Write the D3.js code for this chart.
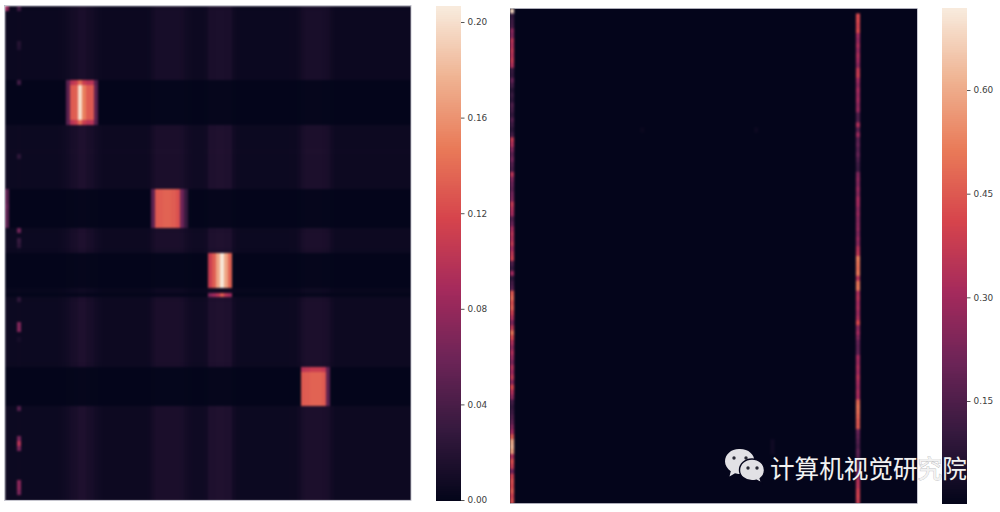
<!DOCTYPE html>
<html><head><meta charset="utf-8">
<style>
html,body{margin:0;padding:0;background:#fff;overflow:hidden}
svg{display:block}
.tick text{font-family:"DejaVu Sans",sans-serif;font-size:8.9px;fill:#404040}
.tick line{stroke:#555}
.domain{display:none}
</style>
<script src="https://cdn.jsdelivr.net/npm/d3@7/dist/d3.min.js"></script>
</head><body><svg id="c" width="1000" height="512"></svg>
<script>
// ---------- colormap (rocket, as it appears in the picture) ----------
const rocketStops = ["#03051a","#35193e","#6c2457","#a52a5c","#d6444c","#e97a58","#efb392","#f8ebdd"];

// ---------- left heatmap data (100 x 100) ----------
const leftColumnProfile = [
 .007,.0055,.0055,.006,.0055,.0055,.0055,.0055,.0055,.0055,.0055,.0055,.0055,.006,.007,
 .009,.012,.013,.016,.016,.013,.012,.009,.007,
 .006,.006,.006,.006,.006,.006,.006,.006,.006,.006,.006,.0065,
 .011,.014,.014,.014,.014,.014,.014,.013,.010,.008,.007,.007,.007,.008,
 .016,.016,.017,.017,.016,.016,.008,.006,.0055,.0055,.0055,.0055,.0055,.0055,.0055,.0055,.0055,.0055,.0055,.0055,.006,.006,.008,
 .013,.015,.015,.015,.015,.014,.013,.008,.006,.006,.006,.006,.006,.006,.006,.006,.006,.006,.006,.006,.006,.006,.006,.006,.006,.006,.006];
const leftRowLevel = [
 .80,.85,.85,.85,.85,.85,.85,.85,.85,.85,.85,.85,.85,.85,.85,
 .10,.10,.10,.10,.10,.10,.10,.10,.10,
 .95,1,1,1,1,1.05,1,1,1,1,1,1,1,
 .10,.10,.10,.10,.10,.10,.10,.10,
 .95,1,1,1,.9,
 .10,.10,.10,.10,.10,.10,.10,.45,.15,
 .95,1,1,1,1,1,1,1,1,1,1,1,1,.95,
 .10,.10,.10,.10,.10,.10,.10,.10,
 1,1,1,1,1,1,1,1,1,1,1,1,1,1,1,1,1,1,1];
// [firstRow, lastRow, firstCol, values across columns]
const leftHotBlocks = [
 [15,15,15,[.05,.10,.11,.14,.11,.10,.10,.045]],
 [16,22,15,[.05,.13,.134,.20,.15,.13,.13,.05]],
 [23,23,15,[.05,.10,.11,.14,.11,.10,.10,.045]],
 [37,44,36,[.05,.13,.132,.135,.135,.132,.125,.06,.03]],
 [50,56,50,[.11,.132,.17,.205,.17,.135]],
 [58,58,50,[.07,.085,.10,.13,.10,.085]],
 [73,73,73,[.10,.105,.11,.11,.11,.105,.05]],
 [74,80,73,[.13,.132,.135,.135,.135,.13,.05]]];
// [row, col, value]
const leftSpecks = [[0,0,.08],[0,3,.035],[7,3,.02],[8,3,.018],[15,3,.035],[30,3,.025],[45,3,.06],[47,3,.03],[48,3,.025],
 [37,0,.05],[38,0,.05],[39,0,.05],[40,0,.055],[41,0,.05],[42,0,.05],[43,0,.05],[44,0,.05],
 [59,3,.025],[64,3,.07],[65,3,.07],[67,3,.012],[81,3,.045],[87,3,.065],[88,3,.10],[89,3,.065],[96,3,.075],[97,3,.075],[98,3,.065]];

// ---------- right heatmap data ----------
const rightFloor = 0.004;
const rightStripeA = [
 .68,.10,.12,.13,.26,.24,.35,.33,.36,.34,.37,.33,.11,.10,.19,.13,
 .08,.11,.09,.15,.13,.10,.16,.12,.09,.13,.37,.33,.24,.18,.22,.16,.14,
 .35,.24,.20,.18,.22,.24,.37,.33,.31,.16,.20,.31,.35,.33,.37,.31,.36,.39,
 .15,.11,.30,.09,.13,.16,.45,.48,.43,.46,.39,.33,.24,.36,.50,.41,
 .33,.27,.33,.28,.24,.33,.30,.36,.26,.41,.33,.26,.13,.10,.12,.15,
 .18,.24,.31,.45,.60,.62,.58,.33,.43,.38,.22,.39,.43,.41,.45,.39,.43];
const rightStripeB = [
 .004,.42,.42,.40,.42,.30,.28,.32,.28,.32,.30,.26,.37,.38,.30,.26,.31,.28,.30,.26,.28,
 .15,.15,.33,.17,.29,.17,.19,.16,.19,.15,.12,.11,.24,.26,.24,.28,.25,.31,.30,.26,.28,.25,.26,.27,.24,.28,.26,.34,.36,
 .52,.50,.49,.51,.34,.50,.51,.32,.34,.31,.32,.29,.32,.42,.26,.30,.24,.19,.18,.19,.31,.29,.32,.30,.34,.31,.29,.32,.31,
 .48,.50,.49,.47,.45,.45,.20,.18,.16,.14,.18,.16,.15,.17,.24,.26,.34,.35,.39,.40,.38].slice(0,100);
// [row, col, value]
const rightSpecks = [[24,32,.018],[24,60,.022],[87,64,.03],[88,64,.03],[89,64,.028]];

// ---------- colour bars ----------
const leftTicks = [0,.04,.08,.12,.16,.20];
const rightTicks = [.15,.30,.45,.60];
const leftDomain = [0,.2067];
const rightDomain = [.0024,.7187];
const watermark = "计算机视觉研究院";

// ---------- build ----------
const rowIdx = d3.range(100), colIdx = d3.range(100);
const leftMatrix = rowIdx.map(r => colIdx.map(c => leftColumnProfile[c]*leftRowLevel[r]));
leftHotBlocks.forEach(([r0,r1,c0,vals]) => { for(let r=r0;r<=r1;r++) vals.forEach((v,i)=>leftMatrix[r][c0+i]=v); });
leftSpecks.forEach(([r,c,v]) => leftMatrix[r][c]=v);

const rocket = d3.scaleLinear().domain(rocketStops.map((_,i)=>i/(rocketStops.length-1))).range(rocketStops).interpolate(d3.interpolateRgb);
const colorL = v => rocket((v-leftDomain[0])/(leftDomain[1]-leftDomain[0]));
const colorR = v => rocket(Math.max(0,(v-rightDomain[0])/(rightDomain[1]-rightDomain[0])));

const svg = d3.select("#c");

// left heatmap
const xL = d3.scaleBand().domain(colIdx).range([5,411]);
const yL = d3.scaleBand().domain(rowIdx).range([6,500]);
const clip = svg.append("defs");
clip.append("clipPath").attr("id","cl").append("rect").attr("x",5).attr("y",6).attr("width",406).attr("height",494);
clip.append("clipPath").attr("id","cr").append("rect").attr("x",510).attr("y",8.5).attr("width",407).attr("height",495);
const gL = svg.append("g").attr("clip-path","url(#cl)").append("g").style("filter","blur(0.9px)").attr("shape-rendering","crispEdges");
gL.selectAll("g").data(leftMatrix).join("g").attr("data-row",(d,i)=>i)
  .each(function(row,r){
    d3.select(this).selectAll("rect").data(row).join("rect")
      .attr("x",(d,c)=>xL(c)).attr("y",yL(r))
      .attr("width",xL.bandwidth()+1).attr("height",yL.bandwidth()+1)
      .attr("fill",d=>colorL(d));
  });
svg.append("rect").attr("x",4.5).attr("y",5.5).attr("width",406.5).attr("height",495)
  .attr("fill","none").attr("stroke","#b8b8c4").attr("stroke-width",.8);

// right heatmap
const xR = d3.scaleBand().domain(colIdx).range([510,917]);
const yR = d3.scaleBand().domain(rowIdx).range([8.5,503.5]);
const gR = svg.append("g").attr("clip-path","url(#cr)").append("g").style("filter","blur(0.8px)");
gR.append("rect").attr("x",xR.range()[0]-5).attr("y",yR.range()[0]-5)
  .attr("width",xR.range()[1]-xR.range()[0]+10).attr("height",yR.range()[1]-yR.range()[0]+10)
  .attr("fill",colorR(rightFloor));
const stripeCells = [];
rightStripeA.forEach((v,r)=>stripeCells.push([r,0,v]));
rightStripeB.forEach((v,r)=>stripeCells.push([r,85,v]));
gR.selectAll("rect.cell").data(stripeCells.concat(rightSpecks)).join("rect").attr("class","cell")
  .attr("x",d=>xR(d[1])).attr("y",d=>yR(d[0]))
  .attr("width",xR.bandwidth()).attr("height",yR.bandwidth()+.5)
  .attr("fill",d=>colorR(d[2]));
svg.append("path").attr("d",`M514.5 8.5H917.5V503.5H510.5`).attr("fill","none").attr("stroke","#b8b8c4").attr("stroke-width",.8);

// colour bars
function colorbar(x,y0,y1,domain,ticks){
  const y = d3.scaleLinear().domain(domain).range([y1,y0]);
  const steps = d3.range(0,256);
  const g = svg.append("g").attr("shape-rendering","crispEdges");
  g.selectAll("rect").data(steps).join("rect")
    .attr("x",x).attr("width",25)
    .attr("y",i=>y(domain[0]+(i+1)/256*(domain[1]-domain[0])))
    .attr("height",(y1-y0)/256+1)
    .attr("fill",i=>rocket((i+.5)/256));
  svg.append("g").attr("transform",`translate(${x+25},0)`)
    .call(d3.axisRight(y).tickValues(ticks).tickFormat(d3.format(".2f")).tickSize(3.5).tickPadding(3));
}
colorbar(436,6,500,leftDomain,leftTicks);
colorbar(942,8,503,rightDomain,rightTicks);

// watermark
const wm = svg.append("g");
const ic = "#e2e1e5";
wm.append("path").attr("fill",ic).attr("d","M740 449c8.500 0 14.500 5.500 14.500 12.500S748.500 474 740 474c-2 0-3.500-.3-5-.8l-5.500 3.300 1.300-5.300c-3.500-2.500-5.800-6-5.800-9.700 0-7 6-12.500 14-12.500z");
wm.append("path").attr("fill",ic).attr("stroke","#06061c").attr("stroke-width",1.4)
  .attr("d","M752 459c7 0 12.500 5 12.500 11.200 0 3.300-1.700 6.300-4.300 8.300l1.300 4.300-5-2.600c-1.500.4-3 .6-4.500.6-7 0-12.500-4.900-12.500-10.600 0-6.200 5.500-11.200 12.500-11.200z");
[[734,458],[746,458],[748,468],[757,468]].forEach(p=>wm.append("circle").attr("cx",p[0]).attr("cy",p[1]).attr("r",1.7).attr("fill","#2a2a35"));
wm.append("text").attr("x",770).attr("y",478).text(watermark)
  .attr("font-family","'Noto Sans CJK SC',sans-serif").attr("font-size",24.6).attr("fill","#f2f2f2")
  .style("paint-order","stroke").attr("stroke","rgba(60,60,70,.35)").attr("stroke-width",.8);
</script></body></html>
